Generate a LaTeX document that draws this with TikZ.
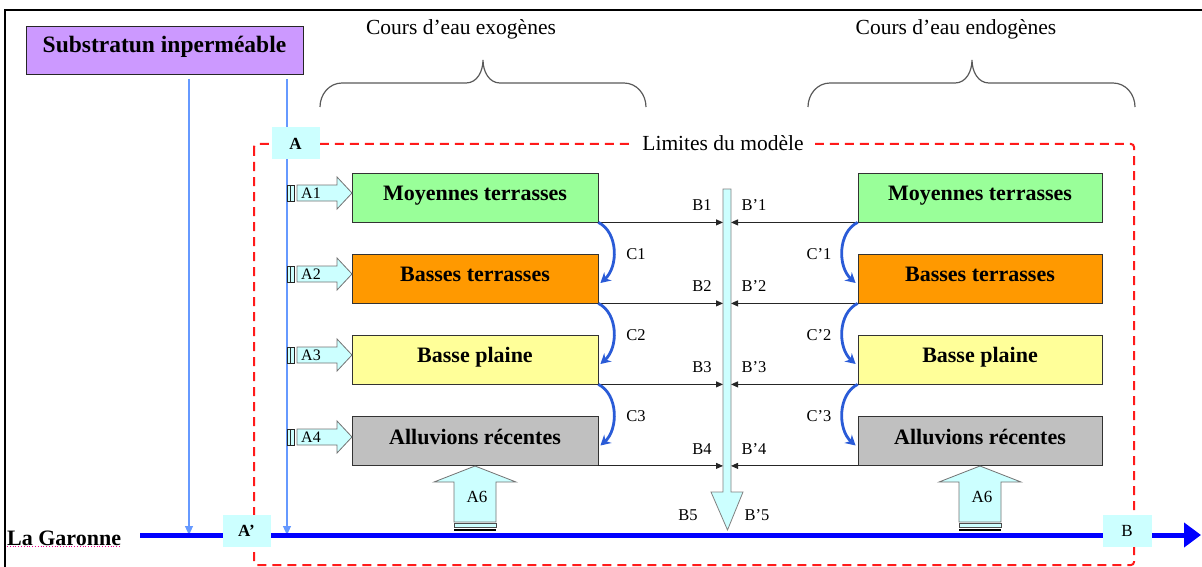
\documentclass[tikz,border=0pt]{standalone}
\usepackage{fontspec}
\setmainfont{Liberation Serif}[BoldFont={Liberation Serif Bold}]
\usetikzlibrary{arrows.meta,calc}
\definecolor{lav}{HTML}{CC99FF}
\definecolor{cy}{HTML}{CCFFFF}
\definecolor{grn}{HTML}{99FF99}
\definecolor{orng}{HTML}{FF9900}
\definecolor{yel}{HTML}{FFFF99}
\definecolor{gry}{HTML}{C0C0C0}
\definecolor{thinblue}{HTML}{6699FF}
\definecolor{curveblue}{HTML}{2A5BD7}
\definecolor{garblue}{HTML}{0000FF}
\definecolor{limred}{HTML}{FF1A1A}
\begin{document}
\begin{tikzpicture}[x=1pt,y=-1pt,
  bigtxt/.style={font=\fontsize{22}{25}\selectfont\bfseries},
  regtxt/.style={font=\fontsize{21.5}{24}\selectfont},
  smalltxt/.style={font=\fontsize{16.5}{18}\selectfont, inner sep=0pt},
  layer/.style={draw=black!80, line width=0.8pt, inner sep=0pt,
    minimum height=49pt, text height=14pt, text depth=8pt, bigtxt},
  labbox/.style={fill=cy, inner sep=0pt, minimum width=48pt, minimum height=32pt,
    font=\fontsize{17}{19}\selectfont},
  hline/.style={draw=black!85, line width=0.9pt, -{Triangle[length=7pt,width=6pt]}},
  curv/.style={draw=curveblue, line width=2.8pt, -{Stealth[length=10pt,width=11pt]}},
  thin/.style={draw=thinblue, line width=1.1pt, -{Triangle[length=9pt,width=8pt]}},
  blockarr/.style={fill=cy, draw=black!55, line width=0.8pt},
  bracestyle/.style={draw=black!65, line width=1.2pt}
]
\useasboundingbox (0,0) rectangle (1202,567);

% frame
\draw[line width=2pt] (5,567) -- (5,10) -- (1202,10);

% model limits
\draw[limred, line width=2pt, dash pattern=on 9pt off 6pt, rounded corners=3pt]
  (254,144) rectangle (1134,565);
\node[regtxt, fill=white, inner xsep=11pt, inner ysep=2pt] (lim) at (723,143) {Limites du modèle};

% braces and titles
\node[regtxt] (exo) at (461,29) {Cours d’eau exogènes};
\node[regtxt] (endo) at (956,29) {Cours d’eau endogènes};
\draw[bracestyle] (320,107) to[out=90,in=180] (342,83) -- (466,83)
  to[out=0,in=-90] (483,60) to[out=-90,in=180] (500,83) -- (624,83) to[out=0,in=90] (646,107);
\draw[bracestyle] (808,107) to[out=90,in=180] (830,83) -- (955,83)
  to[out=0,in=-90] (972,60) to[out=-90,in=180] (989,83) -- (1113,83) to[out=0,in=90] (1135,107);

% substratum
\node[draw=black!85, line width=0.8pt, fill=lav, minimum width=277pt, minimum height=48pt,
  inner sep=0pt, text height=14pt, text depth=8pt, bigtxt, font=\fontsize{23.5}{26}\selectfont\bfseries]
  (sub) at (164.5,50) {Substratun inperméable};

% Garonne coordinates
\coordinate (garA) at (140,535);
\coordinate (garB) at (1201,535);
\coordinate (s1) at (189,79);
\coordinate (s2) at (287,79);
\draw[thin] (s1) -- (s1 |- garA);
\draw[thin] (s2) -- (s2 |- garA);

\node[labbox, font=\fontsize{17}{19}\selectfont\bfseries] (A) at (295.5,143.5) {A};

% layers
\node[layer, fill=grn, minimum width=246pt] (m1) at (475,197.5) {Moyennes terrasses};
\node[layer, fill=orng, minimum width=246pt] (m2) at (475,278.5) {Basses terrasses};
\node[layer, fill=yel, minimum width=246pt] (m3) at (475,359.5) {Basse plaine};
\node[layer, fill=gry, minimum width=246pt] (m4) at (475,441) {Alluvions récentes};
\node[layer, fill=grn, minimum width=244pt] (n1) at (980,197.5) {Moyennes terrasses};
\node[layer, fill=orng, minimum width=244pt] (n2) at (980,278.5) {Basses terrasses};
\node[layer, fill=yel, minimum width=244pt] (n3) at (980,359.5) {Basse plaine};
\node[layer, fill=gry, minimum width=244pt] (n4) at (980,441) {Alluvions récentes};

% side inflow arrows A1-A4
\foreach \yy/\lab/\nm in {193/A1/a1, 274/A2/a2, 355/A3/a3, 437/A4/a4}{
  \filldraw[blockarr] (297,\yy-8) -- (337,\yy-8) -- (337,\yy-16) -- (352,\yy)
    -- (337,\yy+16) -- (337,\yy+8) -- (297,\yy+8) -- cycle;
  \filldraw[fill=cy, draw=black!85, line width=0.7pt] (287.5,\yy-8) rectangle (294,\yy+8);
  \draw[black!85, line width=0.7pt] (290.7,\yy-8) -- (290.7,\yy+8);
  \node[smalltxt, font=\fontsize{16}{17}\selectfont] (\nm) at (311,\yy) {\lab};
}

% upward arrows A6
\foreach \cx/\nm in {475/a6l, 980/a6r}{
  \filldraw[blockarr] (\cx,466) -- (\cx+41,482) -- (\cx+21,482) -- (\cx+21,522)
    -- (\cx-21,522) -- (\cx-21,482) -- (\cx-41,482) -- cycle;
  \filldraw[fill=cy, draw=black!70, line width=0.6pt] (\cx-21,523.5) rectangle (\cx+21,527);
  \fill[black] (\cx-21,528.5) rectangle (\cx+21,531);
  \node[smalltxt, font=\fontsize{17}{19}\selectfont] (\nm) at (\cx+2,497) {A6};
}

% central collector column
\filldraw[fill=cy, draw=black!50, line width=0.8pt]
  (723,189) -- (731,189) -- (731,492) -- (743,492) -- (727.5,530) -- (711,492) -- (723,492) -- cycle;
\coordinate (colL) at (723,300);
\coordinate (colR) at (731,300);

% horizontal flows
\foreach \m in {m1,m2,m3,m4}{
  \draw[hline] (\m.south east) -- (\m.south east -| colL);
}
\foreach \n in {n1,n2,n3,n4}{
  \draw[hline] (\n.south west) -- (\n.south west -| colR);
}

% curved transfers
\draw[curv] (m1.south east) .. controls +(20,10) and +(18,-16) .. ($(m2.east)+(2,4.5)$);
\draw[curv] (m2.south east) .. controls +(20,10) and +(18,-16) .. ($(m3.east)+(2,4.5)$);
\draw[curv] (m3.south east) .. controls +(20,10) and +(18,-16) .. ($(m4.east)+(2,4.5)$);
\draw[curv] (n1.south west) .. controls +(-20,10) and +(-18,-16) .. ($(n2.west)+(-2,4.5)$);
\draw[curv] (n2.south west) .. controls +(-20,10) and +(-18,-16) .. ($(n3.west)+(-2,4.5)$);
\draw[curv] (n3.south west) .. controls +(-20,10) and +(-18,-16) .. ($(n4.west)+(-2,4.5)$);

% labels
\node[smalltxt] (b1) at (702,205) {B1};
\node[smalltxt] (b2) at (702,286) {B2};
\node[smalltxt] (b3) at (702,367) {B3};
\node[smalltxt] (b4) at (702,449) {B4};
\node[smalltxt] (bp1) at (754,205) {B’1};
\node[smalltxt] (bp2) at (754,286) {B’2};
\node[smalltxt] (bp3) at (754,367) {B’3};
\node[smalltxt] (bp4) at (754,449) {B’4};
\node[smalltxt] (b5) at (688,515) {B5};
\node[smalltxt] (bp5) at (757,515) {B’5};
\node[smalltxt] (c1) at (636,254) {C1};
\node[smalltxt] (c2) at (636,335) {C2};
\node[smalltxt] (c3) at (636,416) {C3};
\node[smalltxt] (cp1) at (819,254) {C’1};
\node[smalltxt] (cp2) at (819,335) {C’2};
\node[smalltxt] (cp3) at (819,416) {C’3};

% La Garonne
\draw[garblue, line width=5pt, -{Triangle[length=17pt,width=24pt]}] (garA) -- (garB);
\node[bigtxt, anchor=base west, inner sep=0pt] (gar) at (7,545) {La Garonne};
\draw[magenta, line width=0.8pt, dotted] (gar.base west) ++(0,1.5) -- ++(113,0);
\node[labbox, font=\fontsize{17}{19}\selectfont\bfseries] (Ap) at (246.5,531) {A’};
\node[labbox, minimum width=49pt] (B) at (1127,531) {B};
\end{tikzpicture}
\end{document}
